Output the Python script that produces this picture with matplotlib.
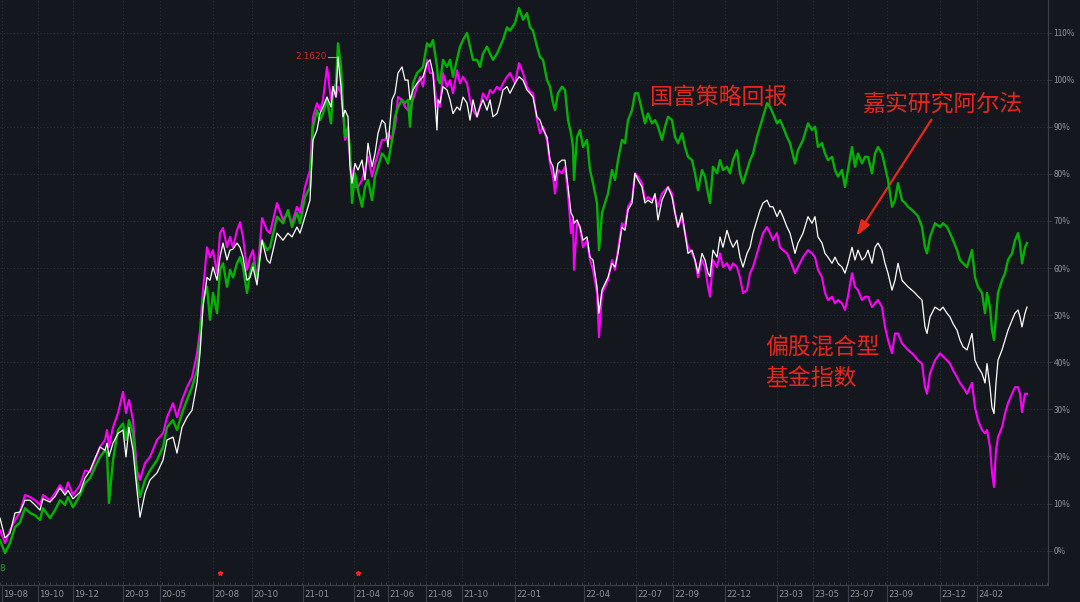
import numpy as np
import matplotlib.pyplot as plt
from matplotlib.ticker import MultipleLocator

plt.rcParams['font.family'] = ['Noto Sans CJK SC', 'DejaVu Sans']

# trading-day index of each sample
t = [0, 5, 10, 15, 20, 25, 30, 35, 40, 43, 50, 55, 60, 65, 68, 73, 80, 85, 90, 95,
     100, 105, 107, 109, 113, 118, 123, 126, 129, 133, 137, 140, 145, 150, 157, 163, 167, 173, 177, 182,
     187, 192, 197, 200, 203, 207, 210, 213, 217, 220, 223, 227, 230, 233, 237, 240, 243, 247, 250, 253,
     257, 262, 267, 270, 277, 283, 288, 292, 297, 300, 305, 310, 313, 317, 320, 323, 327, 331, 333, 336,
     338, 341, 343, 345, 348, 350, 352, 355, 358, 362, 365, 368, 372, 375, 378, 382, 385, 388, 392, 395,
     398, 402, 405, 408, 410, 413, 417, 420, 423, 427, 430, 433, 437, 438, 440, 443, 447, 450, 453, 457,
     460, 463, 467, 470, 473, 477, 480, 483, 487, 490, 493, 497, 500, 503, 507, 510, 515, 519, 523, 527,
     530, 533, 537, 540, 543, 547, 550, 553, 555, 558, 562, 565, 568, 571, 573, 574, 577, 580, 583, 587,
     590, 593, 597, 599, 602, 605, 608, 612, 615, 618, 622, 625, 628, 632, 635, 638, 642, 645, 648, 652,
     655, 658, 662, 665, 668, 672, 675, 678, 682, 685, 688, 692, 695, 698, 702, 705, 708, 710, 713, 717,
     720, 723, 727, 730, 733, 737, 740, 743, 747, 750, 753, 757, 760, 763, 767, 770, 773, 777, 780, 783,
     787, 790, 795, 798, 803, 808, 812, 815, 818, 822, 825, 828, 832, 835, 838, 842, 845, 848, 852, 855,
     858, 862, 865, 868, 872, 875, 878, 882, 885, 888, 892, 895, 898, 902, 905, 908, 912, 915, 918, 922,
     925, 927, 930, 935, 940, 943, 947, 950, 953, 957, 960, 963, 967, 972, 975, 978, 982, 985, 987, 990,
     992, 994, 996, 998, 1002, 1005, 1008, 1012, 1015, 1018, 1020, 1022, 1025, 1027]

# 国富策略回报 (%)
guofu = [2.2, -0.5, 1.6, 5.0, 6.0, 9.0, 8.0, 7.5, 6.5, 9.0, 6.9, 8.6, 10.7, 9.7, 11.4, 9.2, 11.8, 14.3, 15.4, 17.7,
         19.9, 21.3, 20.7, 10.1, 19.2, 25.6, 27.0, 23.5, 27.7, 24.9, 15.0, 11.4, 15.0, 17.0, 19.2, 22.0, 26.2, 27.7, 25.6, 29.2,
         32.0, 34.7, 38.3, 44.7, 53.2, 56.0, 49.0, 54.7, 50.4, 59.6, 61.0, 56.0, 59.6, 58.0, 61.0, 62.3, 60.2, 54.7, 58.9, 61.0,
         58.0, 65.9, 63.8, 64.4, 70.9, 69.5, 72.3, 68.7, 71.7, 69.5, 75.1, 77.2, 90.0, 93.5, 91.4, 92.8, 95.7, 90.7, 97.8, 99.2,
         107.7, 102.7, 94.2, 87.8, 90.0, 85.0, 73.8, 80.1, 76.5, 73.0, 77.2, 78.7, 74.4, 79.4, 81.5, 84.3, 83.6, 82.2, 87.2, 92.1,
         94.2, 95.7, 95.0, 95.7, 90.0, 99.2, 101.4, 102.0, 102.7, 107.7, 107.0, 108.4, 102.7, 100.0, 99.2, 104.2, 102.7, 104.2, 100.6, 104.2,
         107.0, 108.4, 109.9, 107.0, 104.2, 104.2, 102.7, 105.5, 107.0, 105.5, 104.2, 105.5, 107.0, 108.4, 111.1, 110.4, 112.0, 115.2, 112.7, 114.1,
         111.1, 110.4, 107.0, 104.8, 104.2, 99.9, 98.5, 95.0, 93.5, 97.1, 98.5, 97.8, 91.4, 88.6, 85.7, 78.7, 87.8, 89.3, 85.7, 87.2,
         80.8, 78.0, 73.8, 63.8, 71.7, 73.8, 75.8, 80.8, 78.7, 82.9, 87.2, 86.5, 91.4, 93.5, 97.1, 97.1, 93.5, 90.7, 92.8, 90.7,
         91.4, 90.0, 87.2, 90.0, 92.1, 91.4, 87.8, 86.5, 88.6, 85.7, 83.6, 82.9, 80.1, 76.5, 80.8, 79.4, 75.8, 73.8, 81.5, 80.1,
         82.9, 80.8, 81.5, 80.1, 82.9, 85.0, 80.1, 78.0, 80.8, 82.9, 84.3, 87.8, 90.0, 92.1, 95.0, 94.2, 92.8, 90.7, 91.4, 90.0,
         87.8, 86.5, 82.2, 85.0, 87.2, 90.7, 89.3, 90.0, 85.7, 86.5, 84.3, 82.9, 83.6, 80.8, 79.4, 80.8, 77.2, 80.8, 85.7, 81.5,
         84.3, 82.2, 83.6, 83.6, 80.1, 84.3, 85.7, 84.3, 81.5, 78.7, 73.0, 74.4, 78.0, 74.4, 73.8, 73.0, 72.3, 71.7, 71.0, 68.7,
         64.4, 63.1, 66.6, 69.5, 68.7, 69.5, 68.7, 67.4, 65.9, 63.8, 61.7, 61.0, 60.2, 63.8, 58.0, 56.0, 54.7, 50.4, 54.7, 51.7,
         46.8, 44.7, 49.6, 54.7, 57.4, 58.9, 61.7, 63.1, 65.9, 67.4, 65.3, 61.0, 64.4, 65.3]

# 嘉实研究阿尔法 (%)
jiashi = [6.9, 2.7, 3.7, 8.0, 8.2, 10.7, 10.7, 9.7, 8.6, 11.0, 10.3, 11.5, 13.3, 11.8, 12.8, 11.0, 12.4, 15.4, 17.0, 19.6,
          22.0, 21.3, 22.8, 20.0, 22.8, 24.9, 25.6, 19.9, 26.2, 21.3, 12.8, 7.1, 12.2, 15.0, 16.5, 19.2, 23.5, 24.1, 20.7, 26.2,
          28.3, 29.8, 35.6, 41.9, 51.7, 58.0, 57.4, 60.2, 57.4, 62.3, 65.3, 61.7, 63.8, 64.0, 65.3, 64.4, 62.3, 57.4, 58.0, 60.2,
          56.4, 65.9, 61.7, 61.0, 67.4, 65.9, 67.4, 66.6, 68.7, 67.4, 70.9, 74.4, 87.2, 89.3, 92.8, 94.2, 96.3, 94.2, 98.5, 96.3,
          104.8, 98.5, 92.1, 93.5, 92.1, 81.5, 78.0, 82.2, 80.8, 82.9, 78.7, 86.5, 81.5, 84.3, 88.6, 91.4, 90.7, 85.7, 95.7, 97.1,
          101.4, 102.7, 99.9, 99.9, 95.7, 97.8, 99.2, 99.9, 100.6, 103.5, 104.2, 101.4, 89.3, 95.7, 95.0, 98.5, 97.8, 95.7, 92.8, 94.2,
          93.5, 96.3, 95.0, 91.4, 95.7, 92.1, 94.2, 95.7, 93.5, 95.7, 92.1, 92.8, 95.0, 97.8, 98.5, 97.1, 99.2, 100.6, 99.9, 97.8,
          97.1, 96.3, 92.1, 91.4, 89.5, 87.8, 82.9, 81.5, 78.5, 82.2, 82.9, 82.9, 77.2, 71.7, 70.9, 69.5, 70.2, 68.7, 65.9, 66.6,
          62.3, 61.7, 56.0, 50.4, 55.3, 56.7, 58.0, 61.0, 60.2, 63.1, 68.7, 68.0, 72.3, 73.8, 80.1, 78.7, 77.2, 73.8, 74.4, 73.8,
          75.8, 70.2, 74.4, 75.8, 77.2, 75.1, 71.7, 68.7, 71.7, 67.4, 63.1, 63.8, 61.7, 58.9, 63.1, 61.7, 58.9, 58.2, 63.8, 62.3,
          66.6, 64.4, 68.0, 65.9, 64.4, 65.9, 62.3, 60.2, 63.1, 64.4, 67.4, 70.2, 72.3, 73.8, 74.4, 73.0, 73.0, 70.9, 72.3, 70.9,
          68.7, 67.4, 63.1, 65.3, 67.4, 70.9, 69.5, 70.9, 66.6, 65.3, 63.1, 62.3, 61.0, 62.3, 61.0, 60.2, 58.9, 61.0, 64.4, 61.7,
          63.8, 61.7, 62.3, 63.8, 61.0, 64.4, 65.3, 63.8, 61.0, 58.9, 55.3, 57.4, 61.0, 57.4, 56.7, 56.0, 55.3, 54.7, 54.0, 53.2,
          47.5, 46.1, 49.6, 51.7, 51.0, 51.7, 50.4, 49.6, 48.2, 46.8, 44.7, 43.3, 42.6, 46.1, 40.4, 39.0, 37.6, 35.6, 39.7, 34.7,
          30.4, 29.1, 35.6, 40.4, 42.6, 44.7, 46.8, 48.9, 50.4, 51.1, 49.6, 47.5, 50.4, 51.7]

# 偏股混合型基金指数 (%)
pian_gu = [4.3, 1.6, 4.3, 6.5, 8.2, 11.8, 11.4, 10.7, 9.7, 11.8, 10.7, 12.2, 13.9, 12.4, 14.5, 11.8, 13.9, 17.0, 16.7, 19.2,
           22.0, 23.5, 25.6, 22.0, 26.2, 29.2, 33.7, 29.2, 32.0, 27.7, 17.0, 15.0, 18.6, 19.9, 23.5, 24.9, 28.3, 31.3, 28.3, 32.0,
           34.7, 36.8, 41.9, 46.8, 55.3, 64.4, 62.3, 63.8, 58.9, 67.4, 68.5, 64.4, 66.6, 64.4, 68.0, 69.7, 66.6, 59.6, 62.3, 63.8,
           57.4, 70.6, 68.0, 67.4, 73.8, 70.2, 71.7, 69.5, 73.0, 71.7, 77.2, 80.8, 92.1, 95.0, 93.5, 95.7, 102.7, 95.7, 98.5, 96.3,
           98.5, 97.1, 93.5, 87.2, 88.6, 82.9, 80.1, 77.2, 77.2, 78.7, 80.8, 83.6, 79.4, 82.2, 84.3, 87.2, 87.2, 88.6, 87.2, 90.0,
           96.3, 95.7, 94.2, 93.5, 93.5, 95.7, 98.5, 100.6, 98.5, 104.2, 101.4, 101.4, 94.2, 95.7, 94.2, 101.4, 98.5, 99.9, 97.1, 102.0,
           99.2, 100.6, 99.2, 95.7, 93.5, 92.1, 94.2, 97.1, 95.7, 97.8, 97.1, 98.5, 97.8, 99.2, 100.6, 101.4, 99.2, 103.5, 101.4, 98.5,
           97.5, 97.1, 91.4, 88.6, 90.0, 87.2, 82.2, 79.4, 75.8, 80.8, 80.1, 81.5, 75.8, 67.4, 70.2, 59.6, 69.5, 68.7, 64.4, 65.9,
           61.7, 59.6, 54.7, 45.3, 54.7, 56.0, 57.4, 61.7, 59.6, 63.8, 69.5, 68.7, 73.0, 74.4, 80.1, 79.4, 78.0, 74.4, 75.1, 74.4,
           75.1, 73.0, 75.8, 76.5, 77.2, 75.8, 71.7, 68.7, 70.9, 67.4, 64.4, 63.1, 61.7, 58.0, 61.7, 60.2, 56.0, 53.9, 61.7, 60.2,
           63.1, 60.2, 61.0, 59.6, 61.0, 60.2, 58.0, 54.7, 55.3, 58.9, 60.2, 63.1, 65.3, 67.4, 68.7, 67.4, 65.9, 67.4, 64.4, 63.8,
           63.1, 61.7, 58.9, 60.2, 62.3, 63.8, 63.1, 62.3, 59.6, 58.0, 54.7, 53.2, 53.9, 52.5, 53.2, 52.5, 51.1, 54.0, 58.9, 56.0,
           55.3, 53.2, 53.9, 53.9, 51.7, 52.5, 53.2, 51.7, 47.5, 44.7, 41.9, 46.1, 46.1, 44.0, 43.3, 42.6, 41.9, 41.2, 40.4, 39.7,
           34.7, 33.3, 37.6, 40.4, 41.9, 41.2, 40.4, 39.7, 38.3, 36.8, 35.6, 34.7, 33.3, 35.6, 30.4, 27.7, 25.6, 24.9, 25.6, 22.0,
           16.5, 13.5, 21.3, 24.1, 26.2, 29.1, 31.3, 33.3, 34.7, 34.7, 33.3, 29.4, 33.3, 33.3]

tick_pos = [2, 38, 73, 123, 160, 213, 252, 303, 354, 388, 426, 462, 515,
            584, 636, 673, 725, 777, 813, 848, 887, 940, 977]
tick_lab = ['19-08', '19-10', '19-12', '20-03', '20-05', '20-08', '20-10', '21-01', '21-04', '21-06',
            '21-08', '21-10', '22-01', '22-04', '22-07', '22-09', '22-12', '23-03', '23-05', '23-07',
            '23-09', '23-12', '24-02']
y_ticks = list(range(0, 111, 10))

bg = '#14171d'
grid_c = '#2c3038'
axis_c = '#3c4048'
lab_c = '#8e929a'
red = '#e8261c'

fig = plt.figure(figsize=(10.8, 6.02), dpi=100, facecolor=bg)
ax = fig.add_axes([0, 17 / 602, 1048 / 1080, 585 / 602], facecolor=bg)

ax.plot(t, pian_gu, color='#ff00ff', lw=1.5, zorder=3)
ax.plot(t, guofu, color='#00b400', lw=1.7, zorder=4)
ax.plot(t, jiashi, color='white', lw=0.9, zorder=5)

ax.set_xlim(0, 1048)
ax.set_ylim(-7.3, 116.9)

# grid
ax.set_yticks(y_ticks)
ax.set_yticklabels([f'{v}%' for v in y_ticks])
ax.set_xticks(tick_pos)
ax.set_xticklabels([])
ax.grid(True, color=grid_c, ls=(0, (1, 2)), lw=0.8)
ax.xaxis.set_minor_locator(MultipleLocator(5.6))

ax.yaxis.tick_right()
ax.tick_params(axis='y', colors=lab_c, labelsize=6, length=3, pad=1, width=0.6)
ax.tick_params(axis='y', which='both', color=axis_c)
ax.tick_params(axis='x', which='major', direction='out', length=13, width=0.8, color=axis_c)
ax.tick_params(axis='x', which='minor', direction='in', length=2, width=0.6, color=axis_c)

for s in ['top', 'left']:
    ax.spines[s].set_visible(False)
ax.spines['right'].set_color(axis_c)
ax.spines['bottom'].set_color(axis_c)

for p, lab in zip(tick_pos, tick_lab):
    ax.text(p + 1.5, -0.008, lab, transform=ax.get_xaxis_transform(), color=lab_c,
            fontsize=6.2, ha='left', va='top', family='DejaVu Sans')

# max marker
ax.text(327, 104.8, '2.1620', color='#d02828', fontsize=6.5, ha='right', va='center',
        family='DejaVu Sans')
ax.plot([328, 337], [104.8, 104.8], color='#a0a0a0', lw=0.8, zorder=6)

# small markers at the bottom
ax.plot([220, 358], [-4.8, -4.8], ls='none', marker='*', color='#ff2020', ms=3.5)
ax.text(-1, -3.9, '8', color='#20a020', fontsize=6.5, ha='left', va='center', family='DejaVu Sans')

# labels
ax.text(650, 96.3, '国富策略回报', color=red, fontsize=16.5, ha='left', va='center')
ax.text(862, 94.6, '嘉实研究阿尔法', color=red, fontsize=16.5, ha='left', va='center')
ax.text(765, 43.2, '偏股混合型', color=red, fontsize=16.5, ha='left', va='center')
ax.text(765, 36.6, '基金指数', color=red, fontsize=16.5, ha='left', va='center')
ax.annotate('', xy=(855, 66.3), xytext=(933, 92.0),
            arrowprops=dict(arrowstyle='-|>,head_length=0.9,head_width=0.3', color=red, lw=1.6))

fig.savefig('out.png', dpi=100, facecolor=bg)
